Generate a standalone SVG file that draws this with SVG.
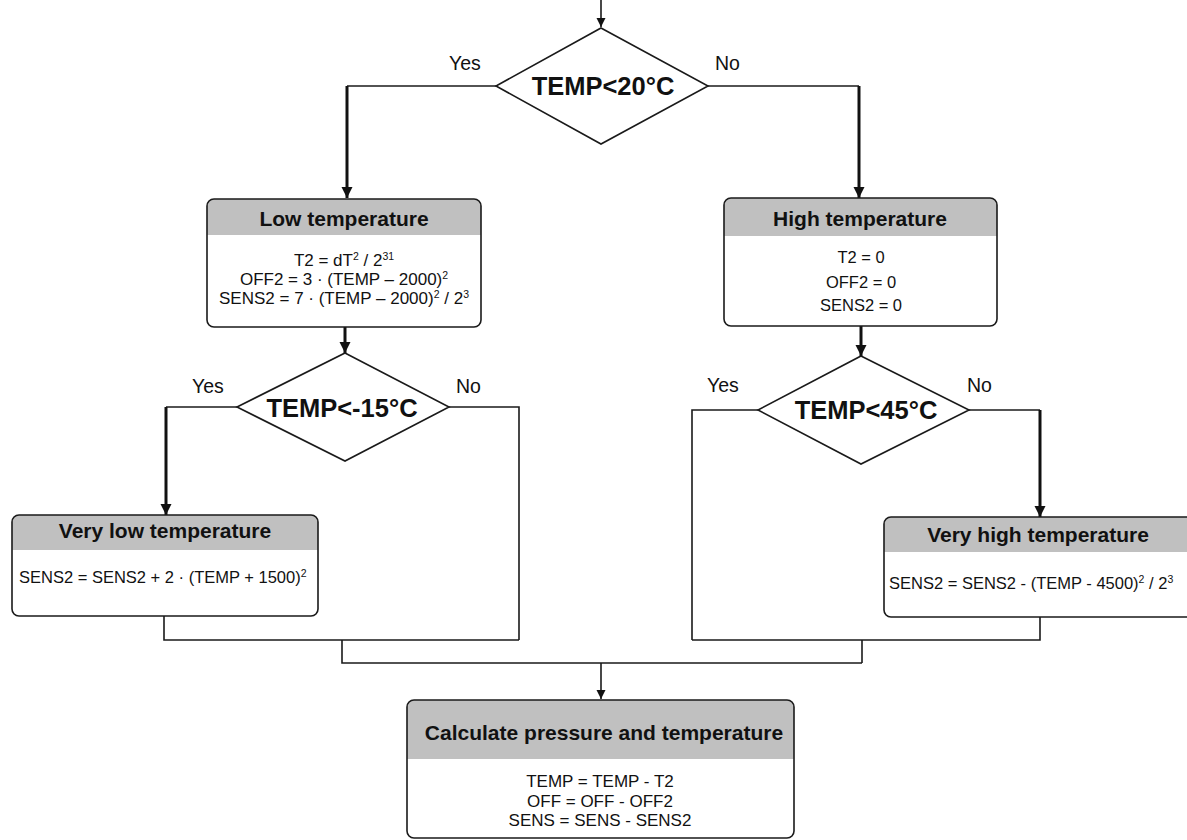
<svg xmlns="http://www.w3.org/2000/svg" width="1187" height="840" viewBox="0 0 1187 840">
<style>
.bg{fill:#ffffff}
.box{fill:none;stroke:#1a1a1a;stroke-width:1.6}
.boxfill{fill:#ffffff}
.hdr{fill:#c0c0c0}
.dia{fill:#ffffff;stroke:#1a1a1a;stroke-width:1.6}
.thin{fill:none;stroke:#1a1a1a;stroke-width:1.6}
.thick{fill:none;stroke:#111111;stroke-width:3}
.ht{font-family:"Liberation Sans",Arial,sans-serif;font-weight:bold;font-size:21px;fill:#111;text-anchor:middle}
.dt{font-family:"Liberation Sans",Arial,sans-serif;font-weight:bold;font-size:25.5px;fill:#111;text-anchor:middle}
.bt{font-family:"Liberation Sans",Arial,sans-serif;font-size:16.5px;fill:#111}
.bl{font-size:17px}
.c{text-anchor:middle}
.yn{font-family:"Liberation Sans",Arial,sans-serif;font-size:19.5px;fill:#111}
.sup{font-size:10.5px}
</style>
<defs>
<marker id="ah" markerUnits="userSpaceOnUse" markerWidth="12" markerHeight="12" refX="11" refY="6" orient="auto">
<path d="M0,0.5 L11,6 L0,11.5 z" fill="#111"/>
</marker>
<marker id="ahs" markerUnits="userSpaceOnUse" markerWidth="10" markerHeight="10" refX="9" refY="5" orient="auto">
<path d="M0,0.5 L9,5 L0,9.5 z" fill="#111"/>
</marker>
</defs>
<rect class="bg" x="0" y="0" width="1187" height="840"/>

<g id="connectors">
<line class="thin" x1="601" y1="0" x2="601" y2="27" marker-end="url(#ahs)"/>
<polyline class="thin" points="496,86 347,86"/>
<line class="thick" x1="347" y1="86" x2="347" y2="198" marker-end="url(#ah)"/>
<polyline class="thin" points="708,86 859,86"/>
<line class="thick" x1="859" y1="86" x2="859" y2="198" marker-end="url(#ah)"/>
<line class="thick" x1="345" y1="327" x2="345" y2="353" marker-end="url(#ah)"/>
<line class="thick" x1="861" y1="326" x2="861" y2="356" marker-end="url(#ah)"/>
<polyline class="thin" points="237,407 166,407"/>
<line class="thick" x1="166" y1="407" x2="166" y2="515" marker-end="url(#ah)"/>
<polyline class="thin" points="449,407 519,407 519,640"/>
<polyline class="thin" points="758,410 692,410 692,640"/>
<polyline class="thin" points="969,410 1040,410"/>
<line class="thick" x1="1040" y1="410" x2="1040" y2="517" marker-end="url(#ah)"/>
<polyline class="thin" points="164,616 164,640 519,640"/>
<polyline class="thin" points="1040,617 1040,640 692,640"/>
<polyline class="thin" points="342,640 342,663 862,663"/>
<line class="thin" x1="862" y1="640" x2="862" y2="663"/>
<line class="thin" x1="601" y1="663" x2="601" y2="699" marker-end="url(#ahs)"/>
</g>

<g id="d1">
<polygon class="dia" points="601,28 708,86 601,144 496,86"/>
<text class="dt" x="603" y="95">TEMP&lt;20°C</text>
<text class="yn" x="449" y="70">Yes</text>
<text class="yn" x="715" y="70">No</text>
</g>

<g id="low">
<rect class="boxfill" x="207" y="199" width="274" height="128" rx="7"/>
<path class="hdr" d="M207,235 V206 A7,7 0 0 1 214,199 H474 A7,7 0 0 1 481,206 V235 Z"/>
<rect class="box" x="207" y="199" width="274" height="128" rx="7"/>
<text class="ht" x="344" y="226">Low temperature</text>
<text class="bt bl c" x="344" y="266">T2 = dT<tspan class="sup" dy="-6">2</tspan><tspan dy="6"> / 2</tspan><tspan class="sup" dy="-6">31</tspan></text>
<text class="bt bl c" x="344" y="285">OFF2 = 3 · (TEMP – 2000)<tspan class="sup" dy="-6">2</tspan></text>
<text class="bt bl c" x="344" y="304">SENS2 = 7 · (TEMP – 2000)<tspan class="sup" dy="-6">2</tspan><tspan dy="6"> / 2</tspan><tspan class="sup" dy="-6">3</tspan></text>
</g>

<g id="high">
<rect class="boxfill" x="724" y="198" width="273" height="128" rx="7"/>
<path class="hdr" d="M724,236 V205 A7,7 0 0 1 731,198 H990 A7,7 0 0 1 997,205 V236 Z"/>
<rect class="box" x="724" y="198" width="273" height="128" rx="7"/>
<text class="ht" x="860" y="226">High temperature</text>
<text class="bt c" x="861" y="263">T2 = 0</text>
<text class="bt c" x="861" y="288">OFF2 = 0</text>
<text class="bt c" x="861" y="311">SENS2 = 0</text>
</g>

<g id="d2">
<polygon class="dia" points="345,353 449,407 345,461 237,407"/>
<text class="dt" x="342" y="417">TEMP&lt;-15°C</text>
<text class="yn" x="192" y="393">Yes</text>
<text class="yn" x="456" y="393">No</text>
</g>

<g id="d3">
<polygon class="dia" points="861,356 969,410 861,464 758,410"/>
<text class="dt" x="866" y="419">TEMP&lt;45°C</text>
<text class="yn" x="707" y="392">Yes</text>
<text class="yn" x="967" y="392">No</text>
</g>

<g id="verylow">
<rect class="boxfill" x="12" y="515" width="306" height="101" rx="7"/>
<path class="hdr" d="M12,550 V522 A7,7 0 0 1 19,515 H311 A7,7 0 0 1 318,522 V550 Z"/>
<rect class="box" x="12" y="515" width="306" height="101" rx="7"/>
<text class="ht" x="165" y="538">Very low temperature</text>
<text class="bt" x="19" y="583">SENS2 = SENS2 + 2 · (TEMP + 1500)<tspan class="sup" dy="-6">2</tspan></text>
</g>

<g id="veryhigh">
<rect class="boxfill" x="884" y="517" width="312" height="100" rx="7"/>
<path class="hdr" d="M884,552 V524 A7,7 0 0 1 891,517 H1189 A7,7 0 0 1 1196,524 V552 Z"/>
<rect class="box" x="884" y="517" width="312" height="100" rx="7"/>
<text class="ht" x="1038" y="542">Very high temperature</text>
<text class="bt" x="889" y="589">SENS2 = SENS2 - (TEMP - 4500)<tspan class="sup" dy="-6">2</tspan><tspan dy="6"> / 2</tspan><tspan class="sup" dy="-6">3</tspan></text>
</g>

<g id="calc">
<rect class="boxfill" x="407" y="700" width="387" height="138" rx="7"/>
<path class="hdr" d="M407,759 V707 A7,7 0 0 1 414,700 H787 A7,7 0 0 1 794,707 V759 Z"/>
<rect class="box" x="407" y="700" width="387" height="138" rx="7"/>
<text class="ht" x="604" y="740">Calculate pressure and temperature</text>
<text class="bt bl c" x="600" y="787">TEMP = TEMP - T2</text>
<text class="bt bl c" x="600" y="807">OFF = OFF - OFF2</text>
<text class="bt bl c" x="600" y="826">SENS = SENS - SENS2</text>
</g>
</svg>
